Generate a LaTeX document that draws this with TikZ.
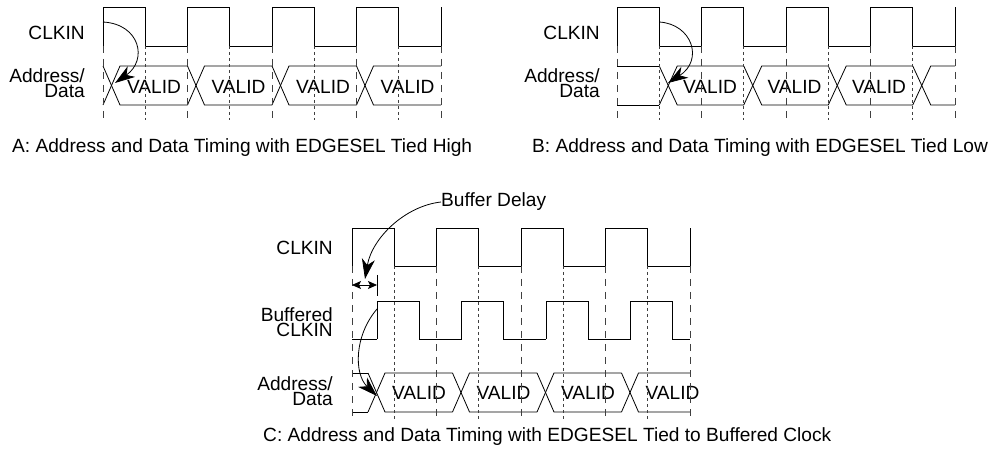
\documentclass[tikz,border=0pt]{standalone}
\usepackage{fontspec}
\setmainfont{Liberation Sans}
\usetikzlibrary{arrows.meta}

\tikzset{
  sig/.style={line width=0.8bp},
  risedash/.style={line width=0.6bp, black!75, dash pattern=on 7bp off 6bp},
  falldash/.style={line width=0.6bp, black!75, dash pattern=on 3bp off 3bp},
  txt/.style={inner sep=0pt, font=\fontsize{19.2}{15}\selectfont},
  signame/.style={txt, anchor=east, align=right},
  cause/.style={line width=0.8bp, -{Stealth[length=20bp,width=13bp,inset=6bp]}},
  delay/.style={line width=0.8bp, {Stealth[length=9bp,width=8bp,inset=2bp]}-{Stealth[length=9bp,width=8bp,inset=2bp]}},
}

\begin{document}
\begin{tikzpicture}[x=1bp, y=-1bp]
    \useasboundingbox (0,0) rectangle (993,453);

    % A: tied high
    \node[signame] (a-clk) at (85,33) {CLKIN};
    \node[signame] (a-ad) at (85,83) {Address/\\Data};
    \foreach \i in {0,...,3}
        \draw[sig] ({103+84.5*\i},46) -- ++(0,-39) -- ++(42.25,0) -- ++(0,39) -- ++(42.25,0);
    \draw[sig] (441,46) -- (441,7);
    \foreach \i in {0,...,3} {
        \draw[sig] ({103+84.5*\i},66) -- ++(17,39) -- ++(67.5,0);
        \draw[sig] ({103+84.5*\i},105) -- ++(17,-39) -- ++(67.5,0);
        \node[txt] (a-valid\i) at ({154+84.5*\i},87) {VALID};
    }
    \foreach \i in {0,...,4} \draw[risedash] ({103+84.5*\i},46) -- ++(0,74);
    \foreach \i in {0,...,3} \draw[falldash] ({145.25+84.5*\i},46) -- ++(0,74);
    \coordinate (a-edge) at (103,22);
    \coordinate (a-cross) at (115,83);
    \draw[cause] (a-edge) .. controls (140,24) and (148,60) .. (a-cross);
    \node[txt, anchor=west] (a-cap) at (12,148) {A: Address and Data Timing with EDGESEL Tied High};

    % B: tied low
    \node[signame] (b-clk) at (600,33) {CLKIN};
    \node[signame] (b-ad) at (600,83) {Address/\\Data};
    \foreach \i in {0,...,3}
        \draw[sig] ({617+84.5*\i},46) -- ++(0,-39) -- ++(42.25,0) -- ++(0,39) -- ++(42.25,0);
    \draw[sig] (955,46) -- (955,7);
    \draw[sig] (617,66) -- (659.25,66);
    \draw[sig] (617,105) -- (659.25,105);
    \foreach \i in {0,...,2} {
        \draw[sig] ({659.25+84.5*\i},66) -- ++(18,39) -- ++(66.5,0);
        \draw[sig] ({659.25+84.5*\i},105) -- ++(18,-39) -- ++(66.5,0);
        \node[txt] (b-valid\i) at ({710+84.5*\i},87) {VALID};
    }
    \draw[sig] (912.75,66) -- ++(18,39) -- (955,105);
    \draw[sig] (912.75,105) -- ++(18,-39) -- (955,66);
    \foreach \i in {0,...,4} \draw[risedash] ({617+84.5*\i},46) -- ++(0,74);
    \foreach \i in {0,...,3} \draw[falldash] ({659.25+84.5*\i},46) -- ++(0,74);
    \coordinate (b-edge) at (659.25,22);
    \coordinate (b-cross) at (668,83);
    \draw[cause] (b-edge) .. controls (692,24) and (704,60) .. (b-cross);
    \node[txt, anchor=west] (b-cap) at (532,148) {B: Address and Data Timing with EDGESEL Tied Low};

    % C: tied to buffered clock
    \node[signame] (c-clk) at (333,248) {CLKIN};
    \node[signame] (c-buf) at (333,322) {Buffered\\CLKIN};
    \node[signame] (c-ad) at (333,391) {Address/\\Data};
    \foreach \i in {0,...,3}
        \draw[sig] ({352+84.5*\i},266) -- ++(0,-38) -- ++(42.25,0) -- ++(0,38) -- ++(42.25,0);
    \draw[sig] (690,266) -- (690,228);
    % buffered clock
    \draw[sig] (352,339) -- (377,339);
    \foreach \i in {0,...,2}
        \draw[sig] ({377+84.5*\i},339) -- ++(0,-38) -- ++(42.25,0) -- ++(0,38) -- ++(42.25,0);
    \draw[sig] (630.5,339) -- ++(0,-38) -- ++(42.25,0) -- ++(0,38) -- (690,339);
    % data
    \draw[sig] (352,373) -- (368,373);
    \draw[sig] (352,412) -- (368,412);
    \foreach \i in {0,...,2} {
        \draw[sig] ({368+84.5*\i},373) -- ++(17,39) -- ++(67.5,0);
        \draw[sig] ({368+84.5*\i},412) -- ++(17,-39) -- ++(67.5,0);
    }
    \draw[sig] (621.5,373) -- ++(17,39) -- (690,412);
    \draw[sig] (621.5,412) -- ++(17,-39) -- (690,373);
    \foreach \i in {0,...,3} \node[txt] (c-valid\i) at ({419+84.5*\i},393) {VALID};
    \foreach \i in {0,...,4} \draw[risedash] ({352+84.5*\i},266) -- ++(0,154);
    \foreach \i in {0,...,3} \draw[falldash] ({394.25+84.5*\i},266) -- ++(0,154);
    % buffer delay
    \draw[sig] (377,275) -- (377,296);
    \coordinate (dl) at (352,285);
    \coordinate (dr) at (377,285);
    \draw[delay] (dl) -- (dr);
    \node[txt, anchor=west] (bd) at (441,202) {Buffer Delay};
    \coordinate (bd-tip) at (365,279);
    \draw[cause] (bd.west) .. controls (405,206) and (372,238) .. (bd-tip);
    \coordinate (c-edge) at (377,309);
    \coordinate (c-cross) at (377,396);
    \draw[cause] (c-edge) .. controls (354,336) and (354,374) .. (c-cross);
    \node[txt, anchor=west] (c-cap) at (263,437) {C: Address and Data Timing with EDGESEL Tied to Buffered Clock};
\end{tikzpicture}
\end{document}
